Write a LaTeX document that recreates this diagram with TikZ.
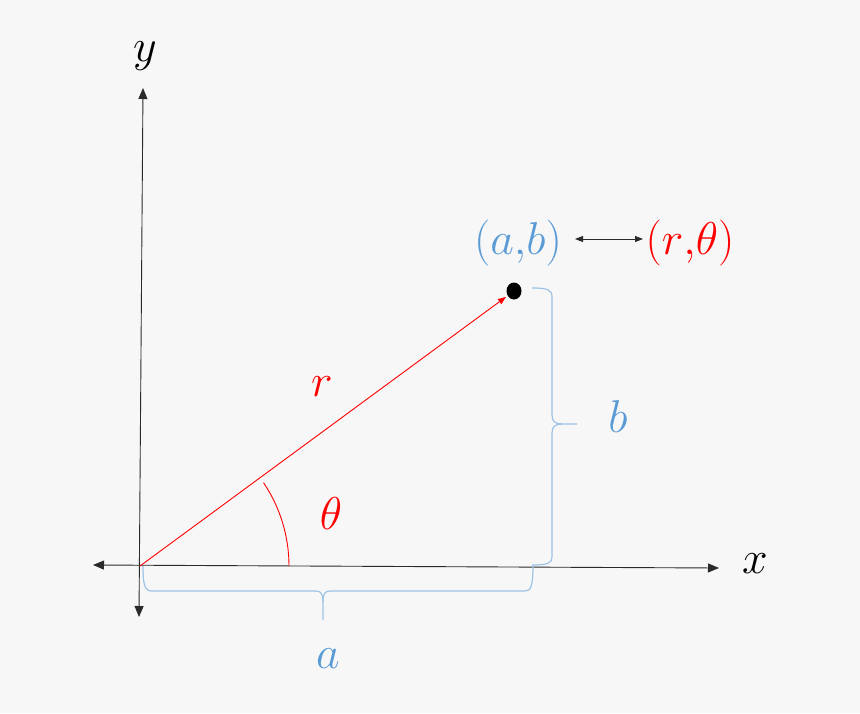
\RequirePackage{fix-cm}
\documentclass[tikz,border=0pt]{standalone}
\usetikzlibrary{arrows.meta}
\definecolor{bggray}{HTML}{F7F7F7}
\definecolor{axisgray}{HTML}{2A2A2A}
\definecolor{ptblue}{HTML}{5B9BD5}
\definecolor{braceblue}{HTML}{9DC3E6}

\begin{document}
\begin{tikzpicture}[x=1pt, y=-1pt,
    axis/.style={draw=axisgray, line width=0.9pt},
    lbl/.style={inner sep=0pt, font=\fontsize{46}{50}\selectfont},
    bracepath/.style={draw=braceblue, line width=1.2pt}]
      \fill[bggray] (0,0) rectangle (860,713);
      \useasboundingbox (0,0) rectangle (860,713);
      % points
      \coordinate (O)  at (140,566);
      \coordinate (P)  at (514,291);
      \coordinate (xl) at (93,565);
      \coordinate (xr) at (719,568);
      \coordinate (yt) at (143,88);
      \coordinate (yb) at (139,617);
      % axes
      \draw[axis,{Triangle[length=11pt,width=9pt]}-{Triangle[length=11pt,width=9pt]}] (xl) -- (xr);
      \draw[axis,{Triangle[length=11pt,width=9pt]}-{Triangle[length=11pt,width=9pt]}] (yb) -- (yt);
      \node[lbl] (ylab) at (145,56) {$y$};
      \node[lbl] (xlab) at (755,564) {$x$};
      % radius and angle
      \draw[red, line width=0.9pt, -{Triangle[length=8pt,width=6pt]}, shorten >=10pt] (O) -- (P);
      \fill (P) circle[x radius=7.5pt, y radius=8.5pt];
      \draw[red, line width=0.9pt] (O) ++(149,0) arc[start angle=0, end angle=34, radius=149pt];
      \node[lbl, red] (rlab) at (322,387) {$r$};
      \node[lbl, red] (thlab) at (331,514) {$\theta$};
      % braces
      \draw[bracepath] (532,288) .. controls (548,288) and (552,290) .. (552,297)
        -- (552,415) .. controls (552,421) and (555,424) .. (562,424) -- (577,424);
      \draw[bracepath] (562,424) .. controls (555,424) and (552,427) .. (552,433)
        -- (552,557) .. controls (552,563) and (548,565) .. (532,565);
      \draw[bracepath] (143,566) .. controls (143,586) and (145,591) .. (152,591)
        -- (316,591) .. controls (321,591) and (323,594) .. (323,602) -- (323,620);
      \draw[bracepath] (323,602) .. controls (323,594) and (325,591) .. (330,591)
        -- (525,591) .. controls (531,591) and (533,586) .. (533,565);
      \node[lbl, ptblue] (blab) at (618,417) {$b$};
      \node[lbl, ptblue] (alab) at (328,659) {$a$};
      % coordinates pair
      \node[lbl, ptblue] (ab) at (518,243) {$(a{,}b)$};
      \node[lbl, red] (rth) at (690,243) {$(r{,}\theta)$};
      \draw[axisgray, line width=0.9pt, {Triangle[length=8pt,width=6pt]}-{Triangle[length=8pt,width=6pt]}]
        (575,239) -- (643,239);
    \end{tikzpicture}
\end{document}
